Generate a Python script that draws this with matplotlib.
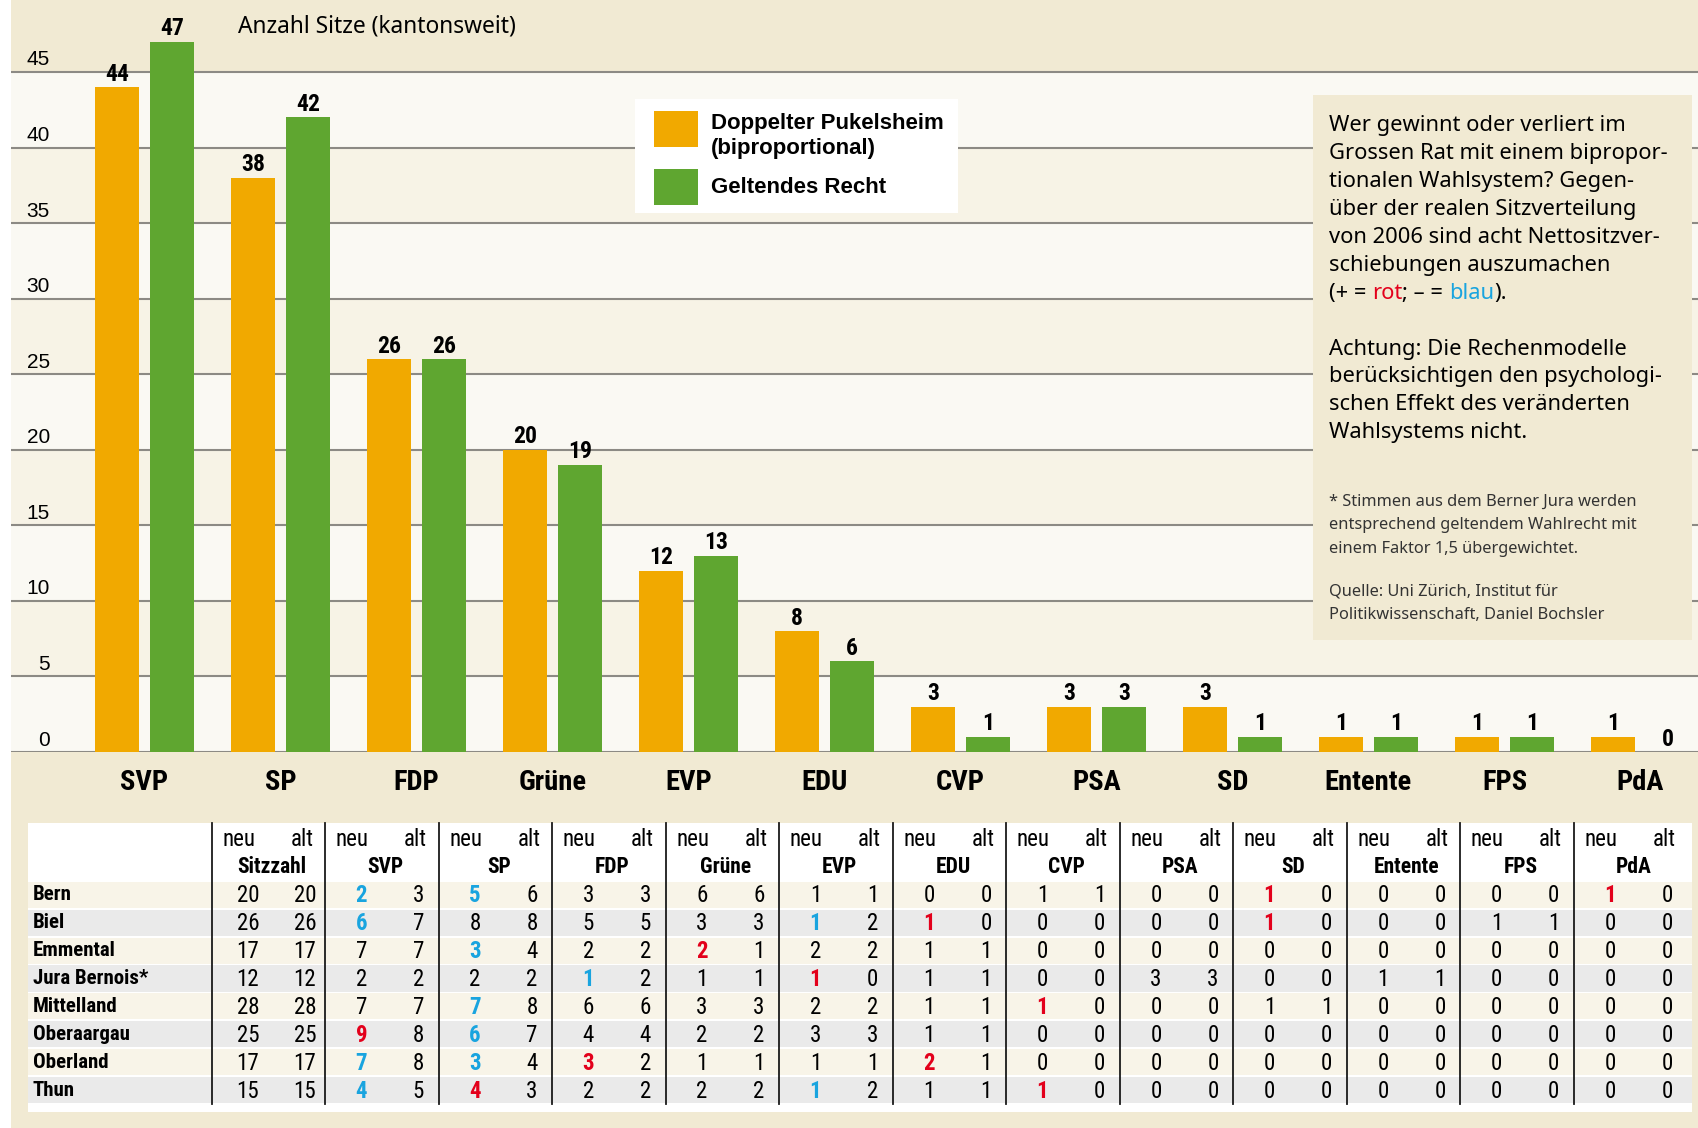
"""Bern Grosser Rat: biproportional (Doppelter Pukelsheim) vs current seat allocation."""
import matplotlib

matplotlib.use("Agg")
import matplotlib.pyplot as plt
import numpy as np
from matplotlib import font_manager
from matplotlib.font_manager import FontProperties
from matplotlib.legend_handler import HandlerPatch
from matplotlib.patches import Rectangle
from matplotlib.transforms import ScaledTranslation

PARTIES = ["SVP", "SP", "FDP", "Grüne", "EVP", "EDU", "CVP", "PSA", "SD", "Entente", "FPS", "PdA"]
SEATS_NEU = [44, 38, 26, 20, 12, 8, 3, 3, 3, 1, 1, 1]
SEATS_ALT = [47, 42, 26, 19, 13, 6, 1, 3, 1, 1, 1, 0]
YTICKS = [0, 5, 10, 15, 20, 25, 30, 35, 40, 45]

REGIONS = ["Bern", "Biel", "Emmental", "Jura Bernois*", "Mittelland", "Oberaargau", "Oberland", "Thun"]
SITZZAHL = [20, 26, 17, 12, 28, 25, 17, 15]
# one row per region, columns in PARTIES order
TABLE_NEU = [
    [2, 5, 3, 6, 1, 0, 1, 0, 1, 0, 0, 1],
    [6, 8, 5, 3, 1, 1, 0, 0, 1, 0, 1, 0],
    [7, 3, 2, 2, 2, 1, 0, 0, 0, 0, 0, 0],
    [2, 2, 1, 1, 1, 1, 0, 3, 0, 1, 0, 0],
    [7, 7, 6, 3, 2, 1, 1, 0, 1, 0, 0, 0],
    [9, 6, 4, 2, 3, 1, 0, 0, 0, 0, 0, 0],
    [7, 3, 3, 1, 1, 2, 0, 0, 0, 0, 0, 0],
    [4, 4, 2, 2, 1, 1, 1, 0, 0, 0, 0, 0],
]
TABLE_ALT = [
    [3, 6, 3, 6, 1, 0, 1, 0, 0, 0, 0, 0],
    [7, 8, 5, 3, 2, 0, 0, 0, 0, 0, 1, 0],
    [7, 4, 2, 1, 2, 1, 0, 0, 0, 0, 0, 0],
    [2, 2, 2, 1, 0, 1, 0, 3, 0, 1, 0, 0],
    [7, 8, 6, 3, 2, 1, 0, 0, 1, 0, 0, 0],
    [8, 7, 4, 2, 3, 1, 0, 0, 0, 0, 0, 0],
    [8, 4, 2, 1, 1, 1, 0, 0, 0, 0, 0, 0],
    [5, 3, 2, 2, 2, 1, 0, 0, 0, 0, 0, 0],
]

INFO_LINES = [
    "Wer gewinnt oder verliert im",
    "Grossen Rat mit einem bipropor-",
    "tionalen Wahlsystem? Gegen-",
    "über der realen Sitzverteilung",
    "von 2006 sind acht Nettositzver-",
    "schiebungen auszumachen",
]
WARN_LINES = [
    "Achtung: Die Rechenmodelle",
    "berücksichtigen den psychologi-",
    "schen Effekt des veränderten",
    "Wahlsystems nicht.",
]
NOTE_LINES = [
    "* Stimmen aus dem Berner Jura werden",
    "entsprechend geltendem Wahlrecht mit",
    "einem Faktor 1,5 übergewichtet.",
]
SOURCE_LINES = ["Quelle: Uni Zürich, Institut für", "Politikwissenschaft, Daniel Bochsler"]

ORANGE = "#F1A900"
GREEN = "#5FA630"
RED = "#E3001B"
BLUE = "#19A4DF"
PANEL = "#F1EAD3"
BAND_LIGHT = "#FAF9F3"
BAND_DARK = "#F7F3E6"
ROW_BEIGE = "#F8F4E8"
ROW_GRAY = "#EAEAEA"

_fonts = {f.name for f in font_manager.fontManager.ttflist}
SANS = "Noto Sans" if "Noto Sans" in _fonts else "DejaVu Sans"
TICK_SANS = "Liberation Sans" if "Liberation Sans" in _fonts else "DejaVu Sans"


def _weight(f):
    return f.weight if isinstance(f.weight, int) else font_manager.weight_dict.get(f.weight, 400)


def _find_condensed():
    """Return {weight: path} for the best condensed sans face that is installed."""
    prefs = ["Liberation Sans Narrow", "Roboto Condensed", "Noto Sans", "Open Sans",
             "DejaVu Sans", "Lato", "Inter"]
    stretch_rank = {"condensed": 0, "semi-condensed": 1, "extra-condensed": 2}
    found = {}
    for f in font_manager.fontManager.ttflist:
        if f.style != "normal" or f.stretch not in stretch_rank or _weight(f) not in (400, 700):
            continue
        rank = (prefs.index(f.name) if f.name in prefs else len(prefs), stretch_rank[f.stretch])
        found.setdefault((rank, f.name, f.stretch), {})[_weight(f)] = f.fname
    for key in sorted(found):
        if len(found[key]) == 2:
            return found[key]
    return None


def _find_bold(name):
    for f in font_manager.fontManager.ttflist:
        if f.name == name and f.style == "normal" and f.stretch == "normal" and _weight(f) == 700:
            return f.fname
    return None


_COND = _find_condensed()
_COND_FALLBACK = "Roboto" if "Roboto" in _fonts else "Liberation Sans"
_SANS_BOLD = _find_bold(SANS)


def nf(size, bold=False):
    if _COND:
        return FontProperties(fname=_COND[700 if bold else 400], size=size)
    return FontProperties(family=_COND_FALLBACK, weight="bold" if bold else "normal", size=size)


def sans_bold(size):
    if _SANS_BOLD:
        return FontProperties(fname=_SANS_BOLD, size=size)
    return FontProperties(family="Liberation Sans", weight="bold", size=size * 1.07)


W, H = 1699, 1128
fig = plt.figure(figsize=(W / 100, H / 100), dpi=100, facecolor="white")

# background canvas in pixel coordinates
bg = fig.add_axes([0, 0, 1, 1], zorder=0)
bg.set_xlim(0, W)
bg.set_ylim(H, 0)
bg.axis("off")
bg.add_patch(Rectangle((11, 0), W - 11, H, color=PANEL, lw=0))

# ---- bar chart ----
base_px, top_px = 752, 72          # pixel rows of y=0 and y=45
px_per_unit = (base_px - top_px) / 45
ax = fig.add_axes([11 / W, 1 - base_px / H, (W - 11) / W, base_px / H], zorder=1)
ax.set_xlim((11 - 144.5) / 136, (W - 144.5) / 136)
ax.set_ylim(0, base_px / px_per_unit)
ax.set_facecolor(PANEL)
for lo in YTICKS[:-1]:
    ax.axhspan(lo, lo + 5, color=BAND_LIGHT if (lo // 5) % 2 == 0 else BAND_DARK, lw=0, zorder=0)
for s in ax.spines.values():
    s.set_visible(False)
ax.set_axisbelow(True)
ax.grid(axis="y", color="#8C8A84", lw=1.5)

x = np.arange(len(PARTIES))
off, bw = 27.5 / 136, 44 / 136
b_neu = ax.bar(x - off, SEATS_NEU, width=bw, color=ORANGE, zorder=2)
b_alt = ax.bar(x + off, SEATS_ALT, width=bw, color=GREEN, zorder=2)
for bars in (b_neu, b_alt):
    ax.bar_label(bars, padding=1, fontproperties=nf(17, bold=True))

ax.set_xticks(x, PARTIES)
ax.tick_params(axis="x", length=0, pad=12)
for lbl in ax.get_xticklabels():
    lbl.set_fontproperties(nf(20.5, bold=True))

ax.set_yticks(YTICKS, [str(t) for t in YTICKS])
ax.tick_params(axis="y", length=0, pad=-39 * 0.72)
for lbl in ax.get_yticklabels():
    lbl.set_fontsize(15)
    lbl.set_family(TICK_SANS)
    lbl.set_transform(lbl.get_transform() + ScaledTranslation(0, 0.14, fig.dpi_scale_trans))

ax.text((238 - 11) / (W - 11), 1 - 26 / base_px, "Anzahl Sitze (kantonsweit)",
        transform=ax.transAxes, fontsize=16.4, family=SANS, va="center", ha="left")

# legend: square swatches 44 x 36 px, placed beside their labels
SW_W, SW_H = 44 * 0.72, 36 * 0.72


def _swatch(lift):
    def make(legend, orig_handle, xdescent, ydescent, width, height, fontsize):
        return Rectangle((-xdescent + 3, -ydescent + lift), SW_W, SW_H)
    return HandlerPatch(patch_func=make)


h_neu, h_alt = b_neu.patches[0], b_alt.patches[0]
leg_fs = 15
ax.legend([h_neu, h_alt], ["Doppelter Pukelsheim\n(biproportional)", "Geltendes Recht"],
          handler_map={h_neu: _swatch(-0.3), h_alt: _swatch(-7.0)},
          loc="upper left", bbox_to_anchor=(635 / W, 1 - 99 / H), bbox_transform=fig.transFigure,
          prop=sans_bold(leg_fs),
          frameon=True, fancybox=False, facecolor="white", edgecolor="none", framealpha=1,
          handlelength=SW_W / leg_fs, handleheight=1.0,
          handletextpad=0.65, borderpad=0.65, labelspacing=0.75, borderaxespad=0)

# ---- overlay: info box + table ----
ov = fig.add_axes([0, 0, 1, 1], zorder=3)
ov.set_xlim(0, W)
ov.set_ylim(H, 0)
ov.axis("off")

ov.add_patch(Rectangle((1313, 95), 1692 - 1313, 640 - 95, color=PANEL, lw=0))
tx, info_fs = 1329, 15.8
for i, line in enumerate(INFO_LINES):
    ov.text(tx, 126 + 27.9 * i, line, fontsize=info_fs, family=SANS, va="center")
t = ov.text(tx, 126 + 27.9 * 6, "(+ = ", fontsize=info_fs, family=SANS, va="center")
for part, col in [("rot", RED), ("; \u2013 = ", "black"), ("blau", BLUE), (").", "black")]:
    t = ov.annotate(part, xy=(1, 0), xycoords=t, va="bottom", ha="left",
                    fontsize=info_fs, family=SANS, color=col)
for i, line in enumerate(WARN_LINES):
    ov.text(tx, 349 + 27.9 * i, line, fontsize=info_fs, family=SANS, va="center")
for i, line in enumerate(NOTE_LINES):
    ov.text(tx, 502 + 23.3 * i, line, fontsize=11.8, family=SANS, va="center", color="#333333")
for i, line in enumerate(SOURCE_LINES):
    ov.text(tx, 592 + 23.3 * i, line, fontsize=11.8, family=SANS, va="center", color="#333333")

# table
ov.add_patch(Rectangle((28, 823), 1692 - 28, 1112 - 823, color="white", lw=0))
row0, row_h = 882, 27.8
for i in range(len(REGIONS)):
    ov.add_patch(Rectangle((28, row0 + row_h * i), 1692 - 28, row_h - 1.6,
                           color=ROW_BEIGE if i % 2 == 0 else ROW_GRAY, lw=0))
col0, col_w = 212, 113.5
fs, fs_b = 16.5, 15
headers = ["Sitzzahl"] + PARTIES
for k, name in enumerate(headers):
    left = col0 + col_w * k
    ov.plot([left, left], [823, 1104], color="#1A1A1A", lw=1.3)
    ov.text(left + 27, 840, "neu", fontproperties=nf(fs), ha="center", va="center")
    ov.text(left + 90, 840, "alt", fontproperties=nf(fs), ha="center", va="center")
    ov.text(left + 60, 867, name, fontproperties=nf(fs_b + 0.5, bold=True), ha="center", va="center")

for i, region in enumerate(REGIONS):
    y = 895 + 28 * i
    ov.text(33, y, region, fontproperties=nf(fs_b, bold=True), va="center")
    ov.text(col0 + 36, y, str(SITZZAHL[i]), fontproperties=nf(fs), ha="center", va="center")
    ov.text(col0 + 93, y, str(SITZZAHL[i]), fontproperties=nf(fs), ha="center", va="center")
    for j in range(len(PARTIES)):
        left = col0 + col_w * (j + 1)
        n, a = TABLE_NEU[i][j], TABLE_ALT[i][j]
        col = RED if n > a else BLUE if n < a else "black"
        ov.text(left + 36, y, str(n), fontproperties=nf(fs, bold=n != a), color=col,
                ha="center", va="center")
        ov.text(left + 93, y, str(a), fontproperties=nf(fs), ha="center", va="center")

fig.savefig("out.png", dpi=100, facecolor=fig.get_facecolor())
